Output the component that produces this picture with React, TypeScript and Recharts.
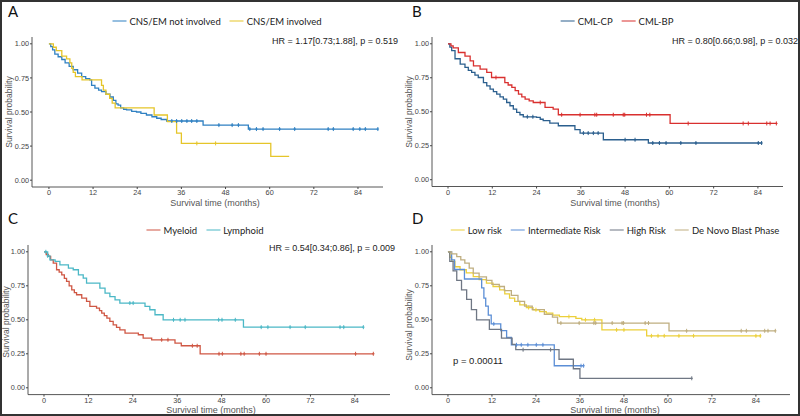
import React from 'react'
import { LineChart, Line, XAxis, YAxis } from 'recharts'

type Step = [number, number]

const monthTicks = [0, 12, 24, 36, 48, 60, 72, 84]
const probTicks = [0, 0.25, 0.5, 0.75, 1]

// A - CNS / extramedullary involvement
const aNotInvolved: Step[] = [
  [0, 1], [0.5, 0.98], [1, 0.955], [1.6, 0.925], [2.5, 0.905], [3.5, 0.885], [4.4, 0.86],
  [5.5, 0.835], [6.6, 0.81], [7.8, 0.785], [8.9, 0.76], [10, 0.745], [11.1, 0.735], [11.6, 0.695],
  [12.5, 0.675], [13.5, 0.66], [14.3, 0.65], [15.5, 0.63], [16.6, 0.61], [17.5, 0.585], [18.2, 0.56],
  [18.8, 0.55], [19.5, 0.53], [20.3, 0.52], [21.1, 0.515], [22.5, 0.505], [23.8, 0.5], [25, 0.49],
  [26.5, 0.478], [28, 0.465], [29.3, 0.454], [30.5, 0.445], [32, 0.434], [41.9, 0.404], [54.2, 0.375],
  [89.4, 0.375],
]
const aNotInvolvedCens = [33.4, 34.7, 36.1, 37.5, 38.8, 40.2, 46.2, 49.8, 51.5, 54.6, 56.4, 58.2, 62.7, 66.8, 75.9, 77.3, 82.7, 84.5, 86, 89.4]
const aInvolved: Step[] = [
  [0, 1], [1.2, 0.975], [2, 0.95], [3.5, 0.91], [4.8, 0.89], [5.7, 0.86], [6.2, 0.82], [6.6, 0.79],
  [7.2, 0.76], [9, 0.735], [14.3, 0.695], [14.8, 0.66], [15.5, 0.63], [16.5, 0.6], [17.2, 0.565],
  [18, 0.53], [28.6, 0.478], [32.2, 0.43], [34.7, 0.345], [36, 0.27], [60.3, 0.175], [65.3, 0.175],
]
const aInvolvedCens = [40.2, 45.3]

// B - CML phase
const bChronic: Step[] = [
  [0, 1], [0.5, 0.975], [1, 0.95], [1.9, 0.89], [3.3, 0.85], [4.6, 0.826], [5.5, 0.805], [6.4, 0.789],
  [7.3, 0.77], [8.2, 0.752], [9.6, 0.715], [10.5, 0.69], [11.4, 0.667], [12.3, 0.648], [13.2, 0.63],
  [14.1, 0.61], [15, 0.593], [15.9, 0.568], [16.8, 0.544], [17.7, 0.52], [18.6, 0.495], [19.5, 0.478],
  [20.4, 0.463], [24, 0.458], [25, 0.445], [25.8, 0.434], [27.6, 0.417], [29.9, 0.397], [34.4, 0.368],
  [35.8, 0.343], [42.1, 0.294], [54.3, 0.27], [85, 0.27],
]
const bChronicCens = [21.5, 23, 36.7, 38, 39.4, 40.7, 48, 50.7, 55.5, 57.3, 59.1, 63.1, 67.2, 84.1, 85]
const bBlast: Step[] = [
  [0, 1], [0.8, 0.985], [1.4, 0.97], [2.8, 0.936], [4.6, 0.91], [6, 0.875], [6.9, 0.838], [8.7, 0.814],
  [10.5, 0.789], [11.8, 0.752], [15.4, 0.715], [16.3, 0.697], [17.3, 0.679], [18.2, 0.655], [19.1, 0.63],
  [20, 0.61], [20.9, 0.593], [22, 0.58], [23.1, 0.568], [26.3, 0.532], [28.5, 0.52], [29.9, 0.478],
  [60.2, 0.414], [89, 0.414],
]
const bBlastCens = [13, 25, 30.8, 35.8, 39.8, 40.3, 44.8, 47.5, 47.9, 53.8, 54.7, 65.1, 80, 81.4, 86.4, 87.3, 89]

// C - blast lineage
const cMyeloid: Step[] = [
  [0, 1], [0.6, 0.98], [1.2, 0.966], [1.8, 0.94], [2.5, 0.917], [3.4, 0.868], [4.1, 0.85], [4.8, 0.83],
  [5.5, 0.805], [6.1, 0.782], [6.8, 0.75], [7.5, 0.72], [8.2, 0.7], [8.8, 0.684], [10.2, 0.66],
  [11.5, 0.635], [12.4, 0.598], [14.2, 0.586], [15, 0.567], [15.6, 0.549], [16.3, 0.53], [17, 0.512],
  [17.8, 0.488], [18.7, 0.463], [19.6, 0.445], [20.5, 0.426], [21.9, 0.402], [25.5, 0.39], [26.8, 0.365],
  [29.1, 0.353], [35.4, 0.328], [37.1, 0.309], [42.2, 0.25], [89, 0.25],
]
const cMyeloidCens = [31.8, 33.5, 40.1, 41.4, 47.3, 48.2, 53.2, 54.1, 58.2, 60, 84.2, 89]
const cLymphoid: Step[] = [
  [0, 1], [1, 0.97], [1.6, 0.94], [3, 0.93], [4.3, 0.904], [6.6, 0.88], [7.9, 0.868], [9.3, 0.83],
  [10.6, 0.806], [11.5, 0.77], [15.1, 0.733], [16.5, 0.696], [17.8, 0.671], [19.2, 0.647], [20.5, 0.623],
  [27.3, 0.598], [28.6, 0.574], [30, 0.537], [32.2, 0.5], [53.9, 0.446], [86.3, 0.446],
]
const cLymphoidCens = [0.5, 1, 23.2, 24.1, 35, 36.8, 38.1, 47.2, 48.1, 51.7, 58.7, 60.5, 66.5, 70.6, 80, 81, 86.3]

// D - risk groups
const dLow: Step[] = [
  [0, 1], [0.5, 0.96], [1, 0.93], [1.9, 0.89], [3.3, 0.868], [5, 0.845], [6.9, 0.818], [8.5, 0.795],
  [10.5, 0.77], [12.3, 0.745], [14.1, 0.72], [15.5, 0.69], [16.8, 0.66], [18.2, 0.635], [19.6, 0.61],
  [21.4, 0.59], [23.2, 0.574], [25, 0.56], [26.8, 0.549], [28.6, 0.535], [30.4, 0.524], [34.9, 0.51],
  [36.5, 0.5], [42, 0.426], [54.2, 0.382], [85.2, 0.382],
]
const dLowCens = [22, 24, 33, 37.5, 40, 46, 48, 55.5, 57.3, 59, 63, 67, 84, 85.2]
const dIntermediate: Step[] = [
  [0, 1], [1, 0.94], [1.8, 0.87], [4.5, 0.8], [9.2, 0.735], [9.8, 0.66], [10.3, 0.6], [11, 0.535],
  [11.8, 0.47], [14.4, 0.42], [16, 0.37], [17.3, 0.316], [29, 0.162], [37, 0.162],
]
const dIntermediateCens = [12.5, 18.7, 20, 21.8, 24.1, 25.9, 36.3, 37]
const dHigh: Step[] = [
  [0, 1], [0.5, 0.93], [1.4, 0.86], [2.4, 0.79], [3.7, 0.72], [5.1, 0.65], [6.4, 0.575], [7.8, 0.5],
  [11.3, 0.43], [14.6, 0.365], [17.5, 0.32], [18.5, 0.28], [30.3, 0.21], [34.2, 0.14], [36, 0.07], [66.5, 0.07],
]
const dHighCens = [20.5, 28, 66.5]
const dDeNovo: Step[] = [
  [0, 1], [1, 0.985], [2.4, 0.965], [3.5, 0.94], [4.6, 0.917], [5.8, 0.88], [6.9, 0.843], [8.5, 0.815],
  [10.5, 0.79], [12, 0.76], [14, 0.745], [15.4, 0.715], [17.3, 0.68], [19.1, 0.635], [20.9, 0.6],
  [23, 0.575], [26.3, 0.54], [28.5, 0.52], [29.9, 0.476], [60.3, 0.419], [89.3, 0.419],
]
const dDeNovoCens = [30.8, 35.8, 39.8, 40.3, 44.8, 47.5, 47.9, 53.8, 54.7, 65.1, 80, 81.4, 86.4, 87.3, 89.3]

const AXIS_FONT = '"Liberation Sans", Arial, sans-serif'
const LEG_FONT = 'Lato, "Open Sans", sans-serif'

type Pt = { m: number; s: number; c: boolean }

// steps + censor ticks (censor takes the survival value of the step it sits on)
const build = (steps: Step[], cens: number[]): Pt[] => {
  const pts: Pt[] = steps.map(([m, s]) => ({ m, s, c: false }))
  cens.forEach((t) => {
    let s = steps[0][1]
    for (const [m, v] of steps) if (m <= t) s = v
    pts.push({ m: t, s, c: true })
  })
  return pts.sort((a, b) => a.m - b.m || Number(a.c) - Number(b.c))
}

const censDot = (color: string) => (p: any) => {
  if (!p.payload || !p.payload.c) return <g key={p.index} />
  const { cx, cy } = p
  return (
    <path key={p.index} d={`M${cx},${cy - 2}V${cy + 2}M${cx - 1.2},${cy}H${cx + 1.2}`}
          stroke={color} strokeWidth={1} fill='none' />
  )
}

type Series = { name: string; color: string; steps: Step[]; cens: number[] }
type Box = { l: number; r: number; t: number; b: number }

const Txt = ({ x, y, size, anchor = 'start', font = AXIS_FONT, color = '#333', rotate = false, children }: any) => {
  const tx = anchor === 'middle' ? '-50%' : anchor === 'end' ? '-100%' : '0'
  return (
    <div style={{
      position: 'absolute', left: x, top: y, fontSize: size, fontFamily: font, color,
      lineHeight: 1, whiteSpace: 'nowrap',
      transform: rotate ? 'translate(-50%,-50%) rotate(-90deg)' : `translate(${tx},-50%)`,
    }}>{children}</div>
  )
}

const Legend = ({ x, y, series }: { x: number; y: number; series: Series[] }) => (
  <div style={{
    position: 'absolute', left: x, top: y, transform: 'translate(-50%,-50%)', display: 'flex',
    gap: 9, alignItems: 'center', fontFamily: LEG_FONT, fontSize: 9.5, color: '#222', whiteSpace: 'nowrap',
  }}>
    {series.map((s) => (
      <div key={s.name} style={{ display: 'flex', alignItems: 'center', gap: 3 }}>
        <div style={{ width: 14, height: 1.8, background: s.color }} />
        <span>{s.name}</span>
      </div>
    ))}
  </div>
)

const KM = ({ box, xDomain, series }: { box: Box; xDomain: number[]; series: Series[] }) => {
  const yw = 30, xh = 20, mt = 4, mr = 6
  const left = box.l - yw, top = box.t - mt
  const width = box.r - left + mr, height = box.b - top + xh
  const tick = { fontSize: 7.3, fill: '#444', fontFamily: AXIS_FONT }
  return (
    <div style={{ position: 'absolute', left, top }}>
      <LineChart width={width} height={height} margin={{ top: mt, right: mr, bottom: 0, left: 0 }}>
        <XAxis dataKey='m' type='number' domain={xDomain} ticks={monthTicks} allowDataOverflow interval={0}
               height={xh} tickSize={2} tickMargin={1} tick={tick}
               axisLine={{ stroke: '#444', strokeWidth: 0.9 }} tickLine={{ stroke: '#444' }} />
        <YAxis type='number' domain={[-0.05, 1.05]} ticks={probTicks} allowDataOverflow interval={0}
               width={yw} tickSize={2} tickMargin={1} tick={tick} tickFormatter={(v: number) => v.toFixed(2)}
               axisLine={{ stroke: '#444', strokeWidth: 0.9 }} tickLine={{ stroke: '#444' }} />
        {series.map((s) => (
          <Line key={s.name} data={build(s.steps, s.cens)} dataKey='s' type='stepAfter' stroke={s.color}
                strokeWidth={1.3} dot={censDot(s.color)} activeDot={false} isAnimationActive={false} />
        ))}
      </LineChart>
    </div>
  )
}

const seriesA: Series[] = [
  { name: 'CNS/EM not involved', color: '#2f80c2', steps: aNotInvolved, cens: aNotInvolvedCens },
  { name: 'CNS/EM involved', color: '#e5c52a', steps: aInvolved, cens: aInvolvedCens },
]
const seriesB: Series[] = [
  { name: 'CML-CP', color: '#2b5f8e', steps: bChronic, cens: bChronicCens },
  { name: 'CML-BP', color: '#d9302f', steps: bBlast, cens: bBlastCens },
]
const seriesC: Series[] = [
  { name: 'Myeloid', color: '#cf5744', steps: cMyeloid, cens: cMyeloidCens },
  { name: 'Lymphoid', color: '#4bb8c6', steps: cLymphoid, cens: cLymphoidCens },
]
const seriesD: Series[] = [
  { name: 'Low risk', color: '#ecd03a', steps: dLow, cens: dLowCens },
  { name: 'Intermediate Risk', color: '#5b8ed6', steps: dIntermediate, cens: dIntermediateCens },
  { name: 'High Risk', color: '#6f7784', steps: dHigh, cens: dHighCens },
  { name: 'De Novo Blast Phase', color: '#bfae80', steps: dDeNovo, cens: dDeNovoCens },
]

const xLabel = 'Survival time (months)'
const yLabel = 'Survival probability'

export default function App() {
  return (
    <div style={{ position: 'absolute', left: 0, top: 0, width: 800, height: 416, background: '#fff', overflow: 'hidden' }}>
      {/* A */}
      <KM box={{ l: 32, r: 383, t: 37, b: 187 }} xDomain={[-4.6, 90.8]} series={seriesA} />
      <Txt x={8} y={11} size={15} font={LEG_FONT} color='#111'>A</Txt>
      <Legend x={217} y={21} series={seriesA} />
      <Txt x={398} y={41} size={9} anchor='end' color='#222'>HR = 1.17[0.73;1.88], p = 0.519</Txt>
      <Txt x={215} y={203} size={9} anchor='middle' color='#555'>{xLabel}</Txt>
      <Txt x={8.5} y={112} size={8.5} rotate color='#555'>{yLabel}</Txt>

      {/* B */}
      <KM box={{ l: 432, r: 783, t: 36.5, b: 186 }} xDomain={[-4.34, 90.8]} series={seriesB} />
      <Txt x={412} y={11} size={15} font={LEG_FONT} color='#111'>B</Txt>
      <Legend x={617} y={21} series={seriesB} />
      <Txt x={798} y={41} size={9} anchor='end' color='#222'>HR = 0.80[0.66;0.98], p = 0.032</Txt>
      <Txt x={615} y={203} size={9} anchor='middle' color='#555'>{xLabel}</Txt>
      <Txt x={408.5} y={112} size={8.5} rotate color='#555'>{yLabel}</Txt>

      {/* C */}
      <KM box={{ l: 28, r: 390, t: 245.2, b: 394.8 }} xDomain={[-4.32, 93.5]} series={seriesC} />
      <Txt x={8} y={218} size={15} font={LEG_FONT} color='#111'>C</Txt>
      <Legend x={205} y={230} series={seriesC} />
      <Txt x={395} y={248} size={9} anchor='end' color='#222'>HR = 0.54[0.34;0.86], p = 0.009</Txt>
      <Txt x={211} y={409.5} size={9} anchor='middle' color='#555'>{xLabel}</Txt>
      <Txt x={6} y={322} size={8.5} rotate color='#555'>{yLabel}</Txt>

      {/* D */}
      <KM box={{ l: 432, r: 790, t: 245.2, b: 394.8 }} xDomain={[-4.35, 93.3]} series={seriesD} />
      <Txt x={412} y={218} size={15} font={LEG_FONT} color='#111'>D</Txt>
      <Legend x={615} y={230} series={seriesD} />
      <Txt x={453} y={361} size={9.5} color='#222'>p = 0.00011</Txt>
      <Txt x={615} y={409.5} size={9} anchor='middle' color='#555'>{xLabel}</Txt>
      <Txt x={408.5} y={325} size={8.5} rotate color='#555'>{yLabel}</Txt>

      <div style={{ position: 'absolute', inset: 0, border: '2px solid #333', boxSizing: 'border-box', pointerEvents: 'none' }} />
    </div>
  )
}
